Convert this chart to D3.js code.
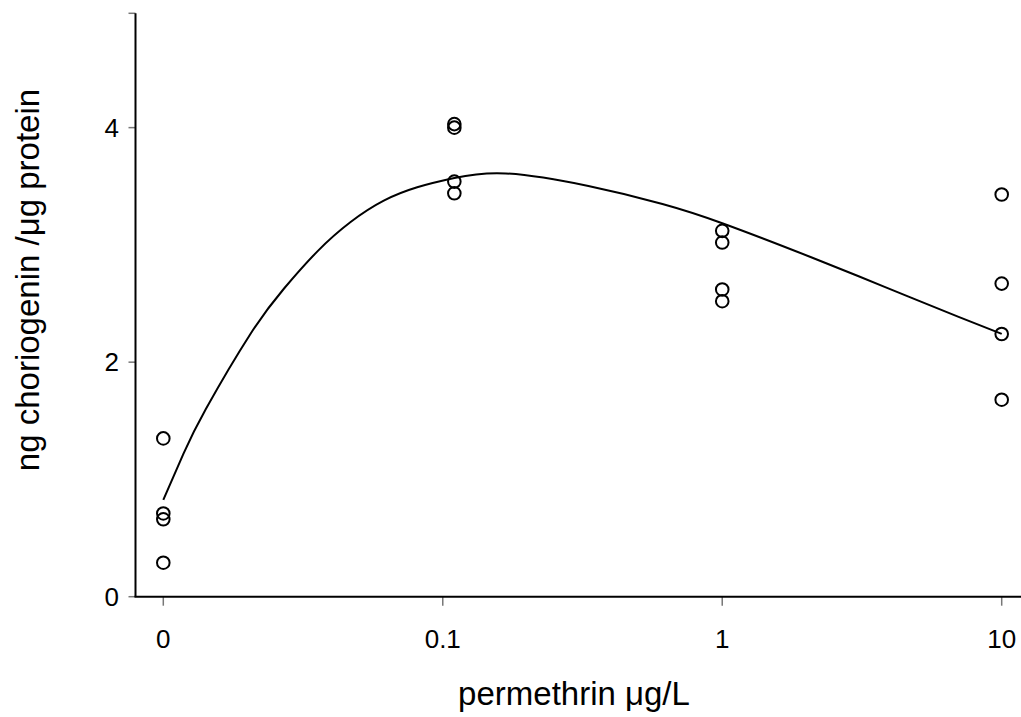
<!DOCTYPE html>
<html>
<head>
<meta charset="utf-8">
<script src="https://cdn.jsdelivr.net/npm/d3@7"></script>
<style>
  html, body { margin: 0; padding: 0; background: #fff; }
  svg { display: block; }
  text { font-family: "Liberation Sans", Arial, Helvetica, sans-serif; fill: #000; }
</style>
</head>
<body>
<script>
// Permethrin dose (µg/L); 0 is the control group
const doses = [0, 0.11, 1, 10];

// Measured choriogenin (ng / µg protein), four fish per dose
const control = [1.35, 0.71, 0.66, 0.29];
const dose011 = [4.03, 4.00, 3.54, 3.44];
const dose1   = [3.12, 3.02, 2.62, 2.52];
const dose10  = [3.43, 2.67, 2.24, 1.68];

// Fitted response curve
const fitDose  = [0, 0.0118, 0.0142, 0.0205, 0.027, 0.0356, 0.0468, 0.0615, 0.081,
                  0.11, 0.168, 0.332, 0.611, 1, 2.07, 3.81, 7.01, 10];
const fitValue = [0.825, 1.218, 1.600, 2.240, 2.626, 2.945, 3.195, 3.377, 3.491,
                  3.570, 3.609, 3.502, 3.349, 3.185, 2.897, 2.642, 2.386, 2.241];

// Axis ticks
const xTicks = [0, 0.1, 1, 10];
const xTickLabels = ["0", "0.1", "1", "10"];
const yTicks = [0, 2, 4];
const yMax = 4.975;

const W = 1021, H = 717;
const svg = d3.select("body").append("svg").attr("width", W).attr("height", H);

// Log dose axis; the control (0) sits one decade below 0.1
const xLog = d3.scaleLog().domain([0.01, 10]).range([163.3, 1001.7]);
const x = d => xLog(d === 0 ? 0.01 : d);
const y = d3.scaleLinear().domain([0, yMax]).range([596.7, 13.3]);

const axisX0 = 135.5;

// Tick marks (grey, short)
svg.append("g").selectAll("line").data(yTicks.concat([yMax])).join("line")
  .attr("x1", axisX0 - 7).attr("x2", axisX0)
  .attr("y1", d => y(d)).attr("y2", d => y(d))
  .attr("stroke", "#777").attr("stroke-width", 1.5);

svg.append("g").selectAll("line").data(xTicks).join("line")
  .attr("x1", d => x(d)).attr("x2", d => x(d))
  .attr("y1", y(0)).attr("y2", y(0) + 9)
  .attr("stroke", "#777").attr("stroke-width", 1.5);

// Axis lines
svg.append("line")
  .attr("x1", axisX0).attr("x2", axisX0)
  .attr("y1", y(yMax)).attr("y2", y(0))
  .attr("stroke", "#000").attr("stroke-width", 2);
svg.append("line")
  .attr("x1", axisX0 - 1).attr("x2", W)
  .attr("y1", y(0)).attr("y2", y(0))
  .attr("stroke", "#000").attr("stroke-width", 2);

// Tick labels
svg.append("g").selectAll("text").data(yTicks).join("text")
  .attr("x", 119).attr("y", d => y(d))
  .attr("dy", "0.35em")
  .attr("text-anchor", "end")
  .attr("font-size", 26)
  .text(d => d);

svg.append("g").selectAll("text").data(xTicks).join("text")
  .attr("x", d => x(d)).attr("y", 648)
  .attr("text-anchor", "middle")
  .attr("font-size", 26)
  .text((d, i) => xTickLabels[i]);

// Axis titles
svg.append("text")
  .attr("x", 574).attr("y", 705)
  .attr("text-anchor", "middle")
  .attr("font-size", 33)
  .text("permethrin \u03bcg/L");

svg.append("text")
  .attr("transform", "translate(39,280) rotate(-90)")
  .attr("text-anchor", "middle")
  .attr("font-size", 33)
  .text("ng choriogenin /\u03bcg protein");

// Fitted curve
const fit = fitDose.map((d, i) => [d, fitValue[i]]);
svg.append("path")
  .datum(fit)
  .attr("fill", "none")
  .attr("stroke", "#000")
  .attr("stroke-width", 2)
  .attr("d", d3.line().x(d => x(d[0])).y(d => y(d[1])).curve(d3.curveNatural));

// Observations
const groups = [control, dose011, dose1, dose10];
const obs = groups.flatMap((vals, i) => vals.map(v => ({ dose: doses[i], value: v })));
svg.append("g").selectAll("circle").data(obs).join("circle")
  .attr("cx", d => x(d.dose))
  .attr("cy", d => y(d.value))
  .attr("r", 6.3)
  .attr("fill", "none")
  .attr("stroke", "#000")
  .attr("stroke-width", 2);
</script>
</body>
</html>
